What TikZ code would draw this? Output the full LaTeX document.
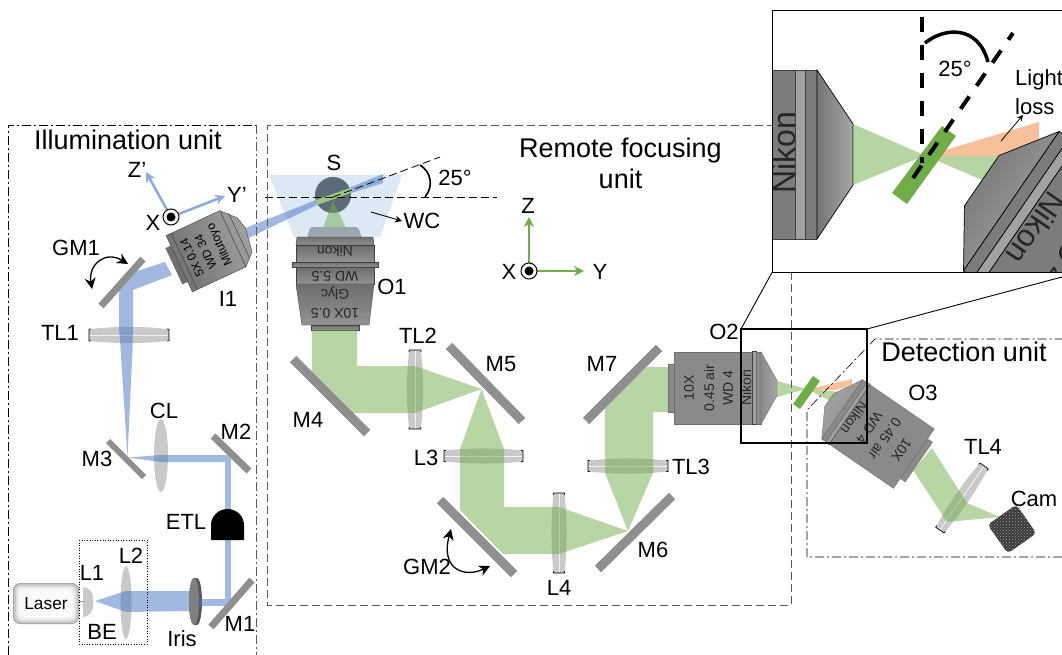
\documentclass[tikz,border=0pt]{standalone}
\usepackage{fontspec}
\setmainfont{Liberation Sans}
\usetikzlibrary{arrows.meta,patterns}
\definecolor{mirgray}{HTML}{8F8F8F}
\definecolor{lensgray}{HTML}{C9C9C9}
\definecolor{objline}{HTML}{404040}
\definecolor{objdark}{HTML}{6E6E6E}
\definecolor{objmid}{HTML}{8A8A8A}
\definecolor{objlight}{HTML}{A6A6A6}
\definecolor{beamgreen}{HTML}{70AD47}
\definecolor{beamblue}{HTML}{4472C4}
\definecolor{orangeb}{HTML}{F4B183}
\definecolor{wcblue}{HTML}{DCE9F4}
\definecolor{sgray}{HTML}{5B6B7A}
\definecolor{capgray}{HTML}{9AA6B0}
\definecolor{axisblue}{HTML}{8FAADC}
\definecolor{boxgray}{HTML}{595959}
\tikzset{
  mirrorst/.style={draw=mirgray,line cap=butt},
  lbl/.style={font=\fontsize{22}{25}\selectfont,inner sep=0pt},
  biglbl/.style={font=\fontsize{27}{31}\selectfont,inner sep=0pt,align=center},
  objtxt/.style={font=\fontsize{14}{16}\selectfont,inner sep=0pt,text=black!85},
  gbeam/.style={fill=beamgreen,fill opacity=.5},
  bbeam/.style={fill=beamblue,fill opacity=.5},
  objst/.style={draw=objline,line width=.5pt},
  axb/.style={draw=axisblue,line width=2.6pt,-{Stealth[length=10pt,width=10pt]}},
  axg/.style={draw=beamgreen,line width=2.6pt,-{Stealth[length=10pt,width=10pt]}},
  boxd/.style={draw=boxgray,line width=1pt,dash pattern=on 8pt off 4pt},
  boxdd/.style={draw=black,line width=.6pt,dash pattern=on 9pt off 3pt on 2pt off 3pt},
  bendarrow/.style={draw=black,line width=1.3pt,{Stealth[length=11pt,width=11pt]}-{Stealth[length=11pt,width=11pt]}},
}
% lens: cx cy rotation half-length half-thickness
\newcommand{\lenz}[5]{%
  \begin{scope}[shift={(#1,#2)},rotate=#3]
    \fill[lensgray] (-#4,-#5*.72) .. controls (-#4*.4,-#5*1.1) and (#4*.4,-#5*1.1) .. (#4,-#5*.72)
      -- (#4,#5*.72) .. controls (#4*.4,#5*1.1) and (-#4*.4,#5*1.1) .. (-#4,#5*.72) -- cycle;
    \draw[white!90!gray,line width=.9pt] (-#4+1,0) -- (#4-1,0);
    \draw[black,line width=.7pt] (-#4+2,-#5*.76) -- (-#4,-#5*.72) -- (-#4,#5*.72) -- (-#4+2,#5*.76);
    \draw[black,line width=.7pt] (#4-2,-#5*.76) -- (#4,-#5*.72) -- (#4,#5*.72) -- (#4-2,#5*.76);
  \end{scope}}
% objective centred on body; axis along local x, tip at +x
\newcommand{\objmain}[3]{%
  \begin{scope}[shift={(#1,#2)},rotate=#3]
    \fill[objmid,draw=objmid!80!black,line width=.4pt] (-49.5,-24) rectangle (-43.5,24);
    \fill[objmid,draw=objmid!80!black,line width=.4pt] (-43.5,-36) rectangle (34.5,36);
    \fill[objlight!80!objmid,draw=objline,line width=.4pt] (34.5,-36.5) rectangle (38.5,36.5);
    \fill[objmid,draw=objmid!80!black,line width=.4pt] (38.5,-36) rectangle (43.5,36);
    \path[shade,shading=axis,left color=objmid,right color=objlight,shading angle=#3+90,draw=objmid!80!black,line width=.4pt]
      (43.5,-36) -- (59.5,-7.5) -- (59.5,7.5) -- (43.5,36) -- cycle;
  \end{scope}}
\begin{document}
\begin{tikzpicture}[x=1pt,y=-1pt]
\useasboundingbox (0,0) rectangle (1062,655);

% ---------- illumination beams (lenses below beams)
\lenz{129}{335}{0}{40}{8}
\fill[lensgray] (161,455.5) ellipse (7 and 36.5);
\fill[lensgray] (126,602.5) ellipse (5.5 and 36.5);
% L1
\fill[lensgray] (83,587) .. controls (89,587) and (93.5,592) .. (93.5,602) .. controls (93.5,612) and (89,617) .. (83,617) -- cycle;
% Laser to L1
\draw[beamblue!70,line width=1pt] (79,601) -- (84,601);
\path[bbeam] (95,601) -- (126,591) -- (190,591) -- (190,611) -- (126,612) -- cycle;
\path[bbeam] (198,599) -- (231,599) -- (231,606) -- (198,606) -- cycle;
\path[bbeam] (225,599) -- (225,462) -- (231,462) -- (231,599) -- cycle;
\path[bbeam] (231,455) -- (231,462) -- (161,462) -- (128,457.5) -- (161,455) -- cycle;
\path[bbeam] (127.5,457) -- (120,340) -- (119,328) -- (119,287) -- (137,271) -- (165,262) -- (172,275) -- (133,290) -- (133,328) -- (132.5,350) -- cycle;
% iris
\fill[objdark!80!black] (194,578) -- (197,578) arc[start angle=270,end angle=450,x radius=5,y radius=23.5] -- (194,625) arc[start angle=90,end angle=270,x radius=5,y radius=23.5] -- cycle;
\fill[objdark!70!objlight] (194,601.5) ellipse (5 and 23.5);
\path[bbeam] (198,599) rectangle (202,606);
% ETL
\fill[black] (211,540) -- (211,525) arc[start angle=180,end angle=360,x radius=16.5,y radius=16] -- (244,540) -- cycle;
% mirrors illumination
\draw[mirrorst,line width=7pt] (211,627) -- (252,580);
\draw[mirrorst,line width=7pt] (213,436) -- (249,471);
\draw[mirrorst,line width=6pt] (108,441) -- (144,477);
\draw[mirrorst,line width=7pt] (101,306) -- (143,259);
% Laser
\fill[gray!70,rounded corners=7pt] (13,583) rectangle (79,624);
\fill[gray!45,rounded corners=6pt] (14,584) rectangle (78,623);
\fill[gray!28,rounded corners=6pt] (15.5,585.5) rectangle (76.5,621.5);
\fill[gray!14,rounded corners=5pt] (17,587) rectangle (75,620);
\fill[white!96!gray,rounded corners=5pt] (19,589) rectangle (73,618);
\node[inner sep=0pt,font=\fontsize{17.3}{20}\selectfont] (laserbox) at (46,604) {Laser};
\draw[black,line width=.6pt,dotted] (79,540) rectangle (147,644);

% ---------- water chamber and sample
\fill[wcblue] (269,175) -- (402,175) -- (380,237) -- (294,237) -- cycle;
\fill[sgray] (333,195) circle (18);
\path[gbeam] (333,200) -- (323,228) -- (346,228) -- cycle;
\path[bbeam] (228,235) -- (232,246) -- (317,205) -- (316,200) -- cycle;
\path[bbeam] (351,187) -- (383,174) -- (383,183) -- (351,193) -- cycle;
\fill[beamgreen!70!white] (316,200) -- (351,187.5) -- (351,193) -- (317,205) -- cycle;
\draw[black,line width=.8pt,dash pattern=on 8pt off 4pt] (265,197) -- (497,197);
\draw[black,line width=.8pt,dash pattern=on 8pt off 4pt] (333,197) -- (440,157);
\draw[black,line width=1.6pt] (420,165) .. controls (431,172) and (434,186) .. (425,197);

% ---------- I1
\begin{scope}[shift={(179.3,263.7)},rotate=25]
  \fill[objdark] (-6,-20) rectangle (0,20);
  \path[shade,shading=axis,left color=objmid!80!black,right color=objlight!80!objmid,shading angle=115,draw=objline,line width=.4pt]
    (0,-31) -- (59,-31) -- (72,-17) -- (75,-4) -- (71,20) -- (59,31) -- (0,31) -- cycle;
  \draw[objst] (5.5,-31) -- (5.5,31);
  \draw[objst] (59,-31) -- (59,31);
  \draw[objst] (66,-25) -- (66,26);
  \node[font=\fontsize{12}{14}\selectfont,inner sep=0pt,transform shape,rotate=90] (i1a) at (14,0) {5X 0.14};
  \node[font=\fontsize{12}{14}\selectfont,inner sep=0pt,transform shape,rotate=90] (i1b) at (29,0) {WD 34};
  \node[font=\fontsize{12}{14}\selectfont,inner sep=0pt,transform shape,rotate=90] (i1c) at (45,0) {Mitutoyo};
\end{scope}

% ---------- O1
\fill[capgray,rounded corners=2pt] (307,238) -- (310,227) -- (358,227) -- (362,238) -- cycle;
\begin{scope}
  \tikzset{o1/.style={shade,shading=axis,top color=objdark,bottom color=objmid!70!objlight,draw=objline,line width=.4pt}}
  \path[o1] (297,237) -- (373,237) -- (374,245) -- (296,245) -- cycle;
  \path[o1] (296,245) rectangle (374,262);
  \path[o1] (292,262) rectangle (378,267);
  \path[o1] (296,267) rectangle (374,284);
  \path[o1] (296,284) -- (374,284) -- (369,325) -- (302,325) -- cycle;
  \path[o1] (311,325) rectangle (359,330);
\end{scope}
\node[objtxt,rotate=180] (o1a) at (335,252) {Nikon};
\node[objtxt,rotate=180] (o1b) at (335,276) {WD 5.5};
\node[objtxt,rotate=180] (o1c) at (335,293.5) {Glyc};
\node[objtxt,rotate=180] (o1d) at (335,313) {10X 0.5};

% ---------- remote focusing lenses
\lenz{415}{389.5}{90}{39.5}{8}
\lenz{483.5}{456}{0}{39.5}{7.5}
\lenz{559}{533}{90}{40}{7.5}
\lenz{628}{466}{0}{40}{7.5}
% green beams
\path[gbeam] (312,330) -- (357,330) -- (357,366) -- (415,366) -- (481.5,389) -- (415,413) -- (347,413) -- (312,377) -- cycle;
\path[gbeam] (481.5,389) -- (504,449) -- (504,507) -- (559,507) -- (628,531) -- (559,554) -- (503,554) -- (460,510) -- (460,449) -- cycle;
\path[gbeam] (628,531) -- (653,473) -- (653,412) -- (668,412) -- (668,367) -- (647,367) -- (605,408) -- (605,473) -- cycle;
% remote mirrors
\draw[mirrorst,line width=9pt] (293,359) -- (367,433);
\draw[mirrorst,line width=9pt] (449,346) -- (522,421);
\draw[mirrorst,line width=9pt] (440,500) -- (514,574);
\draw[mirrorst,line width=9pt] (598,569) -- (672,496);
\draw[mirrorst,line width=9pt] (586,421) -- (659,348);

% ---------- detection lens and beams
\lenz{962}{498}{55.5}{39}{7}
\path[gbeam] (913,470) -- (932,448) -- (967,503) -- (1000,517) -- (947,522) -- cycle;
\node[preaction={fill=black!78},pattern=crosshatch dots,pattern color=white!65!black,rounded corners=4pt,minimum size=35pt,rotate=35,inner sep=0pt] (cambody) at (1012,529) {};
% O2 beam
\path[gbeam] (777,381) -- (777,397) -- (807,389) -- cycle;
\path[gbeam] (807,389) -- (836,404) -- (841,392) -- cycle;
\fill[orangeb,fill opacity=.8] (805,390) -- (852,379) -- (852,385) -- (837,390) -- cycle;
\fill[beamgreen] (813,376) -- (820,381) -- (800,409) -- (793,404) -- cycle;

% ---------- O2 and O3 bodies
\objmain{717.5}{388}{0}
\node[objtxt,rotate=90] (o2a) at (689,388) {10X};
\node[objtxt,rotate=90] (o2b) at (709,388) {0.45 air};
\node[objtxt,rotate=90] (o2c) at (728,388) {WD 4};
\node[objtxt,rotate=90] (o2d) at (746,388) {Nikon};
\objmain{878}{434}{145.5}
\begin{scope}[shift={(878,434)},rotate=145.5]
  \node[objtxt,transform shape,rotate=90] (o3a) at (-28.5,0) {10X};
  \node[objtxt,transform shape,rotate=90] (o3b) at (-8.5,0) {0.45 air};
  \node[objtxt,transform shape,rotate=90] (o3c) at (10.5,0) {WD 4};
  \node[objtxt,transform shape,rotate=90] (o3d) at (28.5,0) {Nikon};
\end{scope}

% ---------- unit boxes
\draw[boxdd] (8,655) -- (8,125) -- (256,125);
\draw[boxd,dash pattern=on 9pt off 3pt on 2pt off 3pt] (256,125) -- (256,655);
\draw[boxd] (791,272) -- (791,605) -- (267,605) -- (267,126) -- (772,126);
\draw[boxdd] (1062,557) -- (807,557) -- (807,410) -- (875,339) -- (1062,339);
\draw[black,line width=.9pt] (741,329) -- (772,272.5);
\draw[black,line width=.9pt] (867,329) -- (1062,277);

% ---------- axes
\draw[axb] (171,217) -- (146,172);
\draw[axb] (171,217) -- (225,196);
\fill[white] (171,217) circle (8);
\draw[black,line width=1pt] (171,217) circle (8);
\fill[black] (171,217) circle (4.5);
\draw[axg] (529,271) -- (529,217);
\draw[axg] (529,271) -- (584,271);
\fill[white] (529,271) circle (8);
\draw[black,line width=1pt] (529,271) circle (8);
\fill[black] (529,271) circle (4.5);

% ---------- curved arrows
\draw[bendarrow] (92,289) .. controls (88,265) and (105,250) .. (128,264);
\draw[bendarrow] (451,529) .. controls (440,570) and (465,578) .. (490,566);
\draw[black,line width=.9pt,-{Stealth[length=7pt,width=7pt]}] (371,212) -- (402,221);

% ---------- labels
\node[biglbl] (tIllum) at (128,140) {Illumination unit};
\node[biglbl] (tRemote) at (620.5,163) {Remote focusing\\unit};
\node[biglbl] (tDetect) at (964,352) {Detection unit};
\node[lbl] (tZp) at (137,170) {Z’};
\node[lbl] (tYp) at (237,195) {Y’};
\node[lbl] (tXp) at (153,223) {X};
\node[lbl] (tGM1) at (76,248) {GM1};
\node[lbl] (tI1) at (228,299) {I1};
\node[lbl] (tTL1) at (60,333) {TL1};
\node[lbl] (tCL) at (164,411) {CL};
\node[lbl] (tM2) at (236,432) {M2};
\node[lbl] (tM3) at (97,459) {M3};
\node[lbl] (tETL) at (186,522) {ETL};
\node[lbl] (tL2) at (131,556) {L2};
\node[lbl] (tL1) at (92,573) {L1};
\node[lbl] (tBE) at (102,632) {BE};
\node[lbl] (tIris) at (182,639) {Iris};
\node[lbl] (tM1) at (240,624) {M1};
\node[lbl] (tS) at (334,163) {S};
\node[lbl] (tang) at (455,178) {25°};
\node[lbl] (tWC) at (422,221) {WC};
\node[lbl] (tO1) at (392,287) {O1};
\node[lbl] (tTL2) at (418,336) {TL2};
\node[lbl] (tM4) at (308,420) {M4};
\node[lbl] (tM5) at (501,364) {M5};
\node[lbl] (tM7) at (602,364) {M7};
\node[lbl] (tL3) at (426,458) {L3};
\node[lbl] (tTL3) at (691,467) {TL3};
\node[lbl] (tL4) at (559,588) {L4};
\node[lbl] (tM6) at (653,550) {M6};
\node[lbl] (tGM2) at (427,567) {GM2};
\node[lbl] (tO2) at (724,332) {O2};
\node[lbl] (tO3) at (923,393) {O3};
\node[lbl] (tTL4) at (983,447) {TL4};
\node[lbl] (tCam) at (1034,499) {Cam};
\node[lbl] (tZ) at (528,206) {Z};
\node[lbl] (tX) at (509,272) {X};
\node[lbl] (tY) at (600,272) {Y};

% ---------- inset outline on the main view
\draw[black,line width=1.3pt] (741,329) rectangle (867,443);

% ---------- inset
\fill[white] (772,10) rectangle (1062,272.5);
\begin{scope}
  \clip (772,10) rectangle (1062,272.5);
  % O2 large
  \fill[objmid!90!black] (770,70) rectangle (795,239);
  \fill[objlight!85!objmid] (795,70) rectangle (805,239);
  \fill[objmid!90!black] (805,70) rectangle (817,239);
  \draw[objline,line width=.6pt] (770,70) -- (817,70) (770,239) -- (817,239) (795,70) -- (795,239) (805,70) -- (805,239);
  \path[shade,shading=axis,left color=objmid!85!black,right color=objlight,shading angle=90,draw=black,line width=.7pt]
    (817,70) -- (853,124) -- (853,185) -- (817,239) -- cycle;
  \node[inner sep=0pt,font=\fontsize{32}{36}\selectfont,rotate=90,text=black!85] (insetNikonA) at (784,153) {Nikon};
  % beams
  \path[gbeam] (853,124) -- (853,185) -- (925,155.5) -- cycle;
  \path[gbeam] (925,155.5) -- (982,180) -- (1000,156) -- cycle;
  \fill[orangeb,fill opacity=.8] (925,156) -- (1039,122) -- (1039,140) -- (1000,156) -- cycle;
  \fill[beamgreen] (942,126) -- (956,136) -- (907,204) -- (892,193) -- cycle;
  % O3 large
  \begin{scope}[shift={(981.7,180.7)},rotate=145.5]
    \path[shade,shading=axis,left color=objlight,right color=objmid!85!black,shading angle=235.5,draw=black,line width=.7pt]
      (0,-30.5) -- (-36,-84.5) -- (-36,84.5) -- (0,30.5) -- cycle;
    \fill[objmid!90!black,draw=black,line width=.7pt] (-36,-84.5) rectangle (-48,84.5);
    \fill[objlight!85!objmid,draw=black,line width=.7pt] (-48,-84.5) rectangle (-58,84.5);
    \fill[objmid!90!black,draw=black,line width=.7pt] (-58,-84.5) rectangle (-200,84.5);
    \node[inner sep=0pt,font=\fontsize{31}{36}\selectfont,transform shape,rotate=90,text=black!85] (insetNikonB) at (-72,-8) {Nikon};
    \node[inner sep=0pt,font=\fontsize{31}{36}\selectfont,transform shape,rotate=90,text=black!85] (insetWD) at (-114,-8) {WD 4};
  \end{scope}
  % angle marks
  \draw[black,line width=4pt,dash pattern=on 15pt off 13pt] (922,17) -- (922,163);
  \draw[black,line width=4pt,dash pattern=on 15pt off 13pt] (913,178) -- (1013,33);
  \draw[black,line width=3.5pt] (925,43) .. controls (945,27) and (978,25) .. (988,62);
  \draw[black,line width=.8pt,-{Stealth[length=6pt,width=6pt]}] (1001,141) -- (1023,115);
\end{scope}
\node[lbl] (tInsAng) at (955,69) {25°};
\node[lbl,anchor=west] (tLight) at (1015,80) {Light};
\node[lbl,anchor=west] (tLoss) at (1015,107) {loss};
\draw[black,line width=.9pt] (1062,272.5) -- (772,272.5) -- (772,10) -- (1062,10);
\end{tikzpicture}
\end{document}
